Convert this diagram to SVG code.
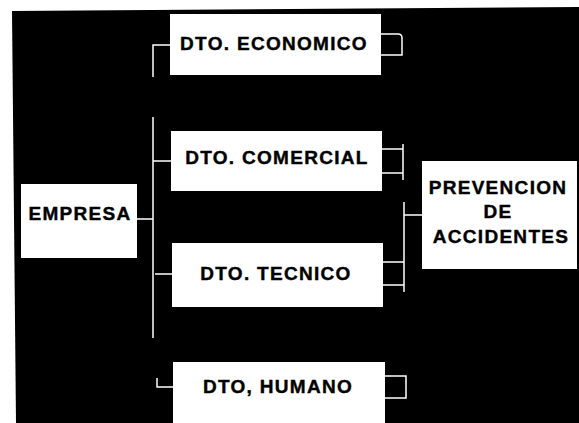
<svg xmlns="http://www.w3.org/2000/svg" width="579" height="423" viewBox="0 0 579 423">
<style>
.box{fill:#fff}
.t{font-family:"Liberation Sans",Arial,sans-serif;font-weight:bold;font-size:19px;letter-spacing:1.3px;fill:#000;stroke:#000;stroke-width:0.4;text-anchor:middle}
.c{fill:none;stroke:#fff;stroke-width:1.5}
</style>
<rect width="579" height="423" fill="#fff"/>
<polygon points="12,11 579,7 579,423 16,423" fill="#000"/>
<g id="connectors">
<path class="c" d="M171,45 H153 V77 M153,117 V338 M153,161 H171 M137,219 H153 M155,274 H173"/>
<path class="c" d="M157,378 V387 H173"/>
<path class="c" d="M381,34 H398 Q402,34 402,38 V55 H381"/>
<path class="c" d="M382,149 H403 M382,173 H403 M403,144 V180"/>
<path class="c" d="M404,202 V292 M404,215 H422 M383,262 H404 M383,285 H404"/>
<path class="c" d="M385,376 H406 V398 H385"/>
</g>
<g id="empresa"><rect class="box" x="21" y="184" width="116" height="74"/><text class="t" x="80" y="220">EMPRESA</text></g>
<g id="economico"><rect class="box" x="170" y="14" width="211" height="61"/><text class="t" x="274" y="50">DTO. ECONOMICO</text></g>
<g id="comercial"><rect class="box" x="171" y="131" width="211" height="60"/><text class="t" x="277" y="164">DTO. COMERCIAL</text></g>
<g id="tecnico"><rect class="box" x="172" y="243" width="211" height="64"/><text class="t" x="276" y="280">DTO. TECNICO</text></g>
<g id="humano"><rect class="box" x="173" y="362" width="212" height="61"/><text class="t" x="278" y="393">DTO, HUMANO</text></g>
<g id="prevencion"><rect class="box" x="422" y="161" width="155" height="108"/><text class="t" x="498" y="194">PREVENCION</text><text class="t" x="498" y="218">DE</text><text class="t" x="501" y="243">ACCIDENTES</text></g>
</svg>
